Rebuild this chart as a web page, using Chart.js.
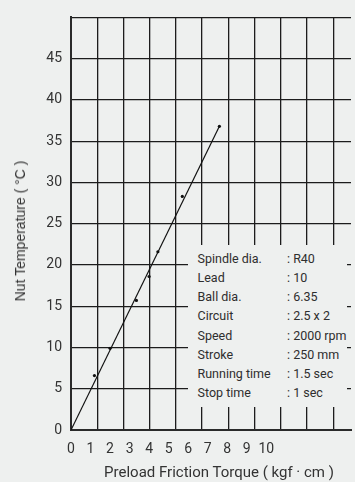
<!DOCTYPE html>
<html>
<head>
<meta charset="utf-8">
<script src="https://cdn.jsdelivr.net/npm/chart.js@4/dist/chart.umd.min.js"></script>
<style>
  html, body { margin: 0; padding: 0; background: #eef0ef; }
  #wrap { position: relative; width: 355px; height: 482px; overflow: hidden; }
  #yTitle {
    position: absolute; left: 20px; top: 231px;
    transform: translate(-50%, -50%) rotate(-90deg);
    white-space: nowrap; font: 14px "Liberation Sans", Arial, sans-serif; color: #333;
  }
  #xTitle {
    position: absolute; left: 219px; top: 472px;
    transform: translate(-50%, -50%);
    white-space: nowrap; font: 15px "Liberation Sans Narrow", "Roboto", sans-serif; color: #333;
  }
  #specs {
    position: absolute; left: 188px; top: 245px; width: 159px; height: 162px;
    background: #eef0ef; box-sizing: border-box; padding: 4px 0 0 9.5px;
    font: 12.5px "Liberation Sans Narrow", "Roboto", sans-serif; color: #2e2e2e;
  }
  #specs .row { height: 19.15px; line-height: 19.15px; white-space: nowrap; }
  #specs .lbl { display: inline-block; width: 89.5px; }
</style>
</head>
<body>
<div id="wrap">
  <canvas id="chart" width="355" height="482"></canvas>
  <div id="yTitle">Nut Temperature ( °C )</div>
  <div id="xTitle">Preload Friction Torque ( kgf · cm )</div>
  <div id="specs"></div>
</div>
<script>
// measured points
const torque = [1.2, 2.0, 3.35, 4.0, 4.45, 5.7, 7.6];
const temperature = [6.6, 9.9, 15.7, 18.6, 21.6, 28.3, 36.8];

// fitted line
const fitTorque = [0, 7.6];
const fitTemp = [0, 36.8];

const xTicks = [0, 1, 2, 3, 4, 5, 6, 7, 8, 9, 10];
const yTicks = [0, 5, 10, 15, 20, 25, 30, 35, 40, 45];

const specLabels = ['Spindle dia.', 'Lead', 'Ball dia.', 'Circuit', 'Speed', 'Stroke', 'Running time', 'Stop time'];
const specValues = [': R40', ': 10', ': 6.35', ': 2.5 x 2', ': 2000 rpm', ': 250 mm', ': 1.5 sec', ': 1 sec'];

const specs = document.getElementById('specs');
specLabels.forEach((lbl, i) => {
  const row = document.createElement('div');
  row.className = 'row';
  row.innerHTML = '<span class="lbl">' + lbl + '</span><span>' + specValues[i] + '</span>';
  specs.appendChild(row);
});

const gridColor = '#1c1c1c';

new Chart(document.getElementById('chart'), {
  type: 'scatter',
  data: {
    datasets: [{
      data: fitTorque.map((x, i) => ({ x: x, y: fitTemp[i] })),
      showLine: true,
      borderColor: '#111',
      borderWidth: 1.2,
      pointRadius: 0,
      xAxisID: 'x'
    }, {
      data: torque.map((x, i) => ({ x: x, y: temperature[i] })),
      backgroundColor: '#111',
      borderWidth: 0,
      pointRadius: 1.6,
      xAxisID: 'x'
    }]
  },
  options: {
    responsive: false,
    animation: false,
    layout: { padding: { top: 6, right: 0, left: 0, bottom: 0 } },
    plugins: { legend: { display: false }, tooltip: { enabled: false } },
    scales: {
      x: {
        type: 'linear', position: 'bottom',
        min: 0, max: 14.34,
        afterBuildTicks: s => { s.ticks = xTicks.map(v => ({ value: v })); },
        afterFit: s => { s.height = 52; },
        grid: { display: false, drawTicks: false },
        border: { display: true, color: '#2a2a2a', width: 2 },
        ticks: { padding: 11, color: '#333', font: { family: 'Roboto', size: 14 }, maxRotation: 0, autoSkip: false }
      },
      x2: {
        type: 'linear', position: 'top',
        min: 0, max: 10.68,
        afterBuildTicks: s => { s.ticks = xTicks.map(v => ({ value: v })); },
        afterFit: s => { s.height = 0; },
        grid: { color: gridColor, lineWidth: 1.3, drawTicks: false },
        border: { display: false },
        ticks: { display: false }
      },
      y: {
        min: 0, max: 50,
        afterBuildTicks: s => { s.ticks = yTicks.concat([50]).map(v => ({ value: v })); },
        afterFit: s => { s.width = 71; },
        grid: { color: gridColor, lineWidth: 1.3, drawTicks: false },
        border: { display: true, color: '#2a2a2a', width: 2 },
        ticks: {
          padding: 9, color: '#333', font: { family: 'Roboto', size: 14 },
          callback: v => yTicks.includes(v) ? String(v) : ''
        }
      }
    }
  }
});
</script>
</body>
</html>
